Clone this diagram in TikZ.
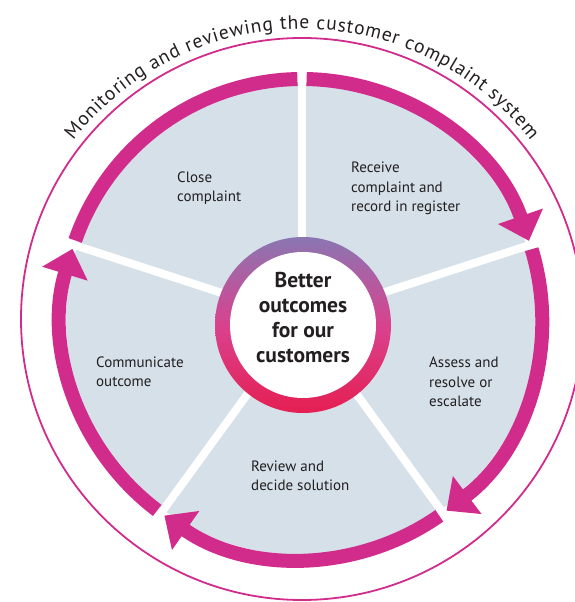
\documentclass[tikz,border=0pt]{standalone}
\usepackage{fontspec}
\setmainfont{PT Sans}
\usetikzlibrary{arrows.meta,decorations.text}
\definecolor{cyclepink}{HTML}{D12B8C}
\definecolor{sectorblue}{HTML}{D5E0E9}
\definecolor{ringtop}{HTML}{8A76B2}
\definecolor{ringmid}{HTML}{D9428E}
\definecolor{ringbot}{HTML}{E51F52}
\definecolor{labelgrey}{HTML}{231F20}

\begin{document}
\begin{tikzpicture}[x=1pt, y=1pt,
	arcline/.style={cyclepink, line width=14pt},
	arrowline/.style={arcline, -{Triangle[width=46pt, length=26pt]}},
	divider/.style={white, line width=8pt},
	lbl/.style={anchor=base west, align=left, inner sep=0pt, text=labelgrey, font=\fontsize{15}{19.5}\selectfont},
	hub/.style={anchor=base, align=center, inner sep=0pt, text=labelgrey, font=\bfseries\fontsize{21.5}{25}\selectfont}]
	\useasboundingbox (0,0) rectangle (574,602);
	\coordinate (c) at (302,283);
	\coordinate (r) at (303,277);
	\draw [cyclepink, line width=1.8pt] (c) circle [radius=281];
	\fill [sectorblue] (c) circle [radius=236];
	\foreach \a in {90,18,-54,-126,162}
		\draw [divider] (c) -- ++(\a:250);
	\draw [arcline] ([shift={(160.9:240)}]c) arc [start angle=160.9, end angle=91.1, radius=240];
	\draw [arrowline] ([shift={(88.9:240)}]c) arc [start angle=88.9, end angle=19, radius=240];
	\draw [arrowline] ([shift={(16.9:240)}]c) arc [start angle=16.9, end angle=-53, radius=240];
	\draw [arrowline] ([shift={(-55.1:240)}]c) arc [start angle=-55.1, end angle=-125, radius=240];
	\draw [arrowline] ([shift={(-127.1:240)}]c) arc [start angle=-127.1, end angle=-197, radius=240];
	\shade [top color=ringtop, bottom color=ringbot, middle color=ringmid] (r) circle [radius=88];
	\fill [white] (r) circle [radius=73];
	\node [hub] (goal) at (303,239) {Better\\outcomes\\for our\\customers};
	\node [lbl] (close) at (177,400) {Close\\complaint};
	\node [lbl] (receive) at (351,390) {Receive\\complaint and\\record in register};
	\node [lbl] (assess) at (429,195) {Assess and\\resolve or\\escalate};
	\node [lbl] (review) at (251,111) {Review and\\decide solution};
	\node [lbl] (communicate) at (96,215) {Communicate\\outcome};
	\begin{scope}[execute at begin scope={\fontsize{19.5}{19.5}\selectfont}]
		\path [decorate, decoration={text along path, text align=fit to path,
			text={|\color{labelgrey}|Monitoring and reviewing the customer complaint system}}]
			([shift={(142:290)}]c) arc [start angle=142, end angle=38, radius=290];
	\end{scope}
\end{tikzpicture}
\end{document}
